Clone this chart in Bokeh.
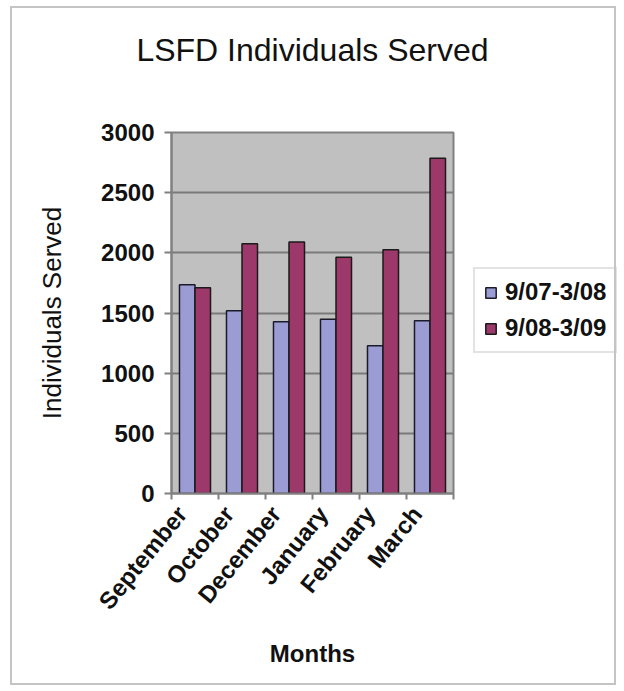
import math
from bokeh.plotting import figure
from bokeh.models import (ColumnDataSource, FixedTicker, Legend, LegendItem, Range1d, Title)
from bokeh.transform import dodge
from bokeh.embed import file_html
from bokeh.resources import INLINE

# ---- data ----
months = ["September", "October", "December", "January", "February", "March"]
series_names = ["9/07-3/08", "9/08-3/09"]
served_0708 = [1735, 1519, 1427, 1449, 1228, 1436]
served_0809 = [1710, 2076, 2089, 1964, 2026, 2787]
y_ticks = [0, 500, 1000, 1500, 2000, 2500, 3000]
chart_title = "LSFD Individuals Served"

pos = [i + 0.5 for i in range(len(months))]
label_pos = [i + 0.22 for i in range(len(months))]
src = ColumnDataSource(dict(pos=pos, a=served_0708, b=served_0809))

FONT = "Liberation Sans"
BAR_W = 0.33

p = figure(frame_width=282, frame_height=361, output_backend="svg", toolbar_location=None,
           x_range=Range1d(0, len(months)), y_range=Range1d(0, 3000),
           min_border_left=171, min_border_right=0,
           min_border_top=132, min_border_bottom=198,
           background_fill_color="#c0c0c0", border_fill_color="white",
           border_fill_alpha=0.0)
p.stylesheets = [
    ":host { position: relative; }"
    ":host::after { content: ''; position: absolute; left: 10px; top: 6px;"
    " width: 602px; height: 675px; border: 2px solid #c4c4c4; pointer-events: none; }"
]

p.outline_line_color = "#808080"
p.outline_line_width = 2

# spacer between frame and title (nearest the frame), then the title itself
p.add_layout(Title(text=" ", text_font_size="1px", standoff=62), "above")
p.add_layout(Title(text=chart_title, align="center", text_font=FONT,
                   text_font_size="32px", text_font_style="normal",
                   text_color="#111111", standoff=0), "above")

r1 = p.vbar(x=dodge("pos", -BAR_W / 2, range=p.x_range), top="a", width=BAR_W,
            source=src, fill_color="#9c9cd4", line_color="#1a1a2a", line_width=1.5)
r2 = p.vbar(x=dodge("pos", BAR_W / 2, range=p.x_range), top="b", width=BAR_W,
            source=src, fill_color="#9c386a", line_color="#1a1a1a", line_width=1.5)

# x axis
p.xaxis.ticker = FixedTicker(ticks=label_pos, minor_ticks=list(range(len(months) + 1)))
p.xaxis.major_label_overrides = {label_pos[i]: m for i, m in enumerate(months)}
p.xaxis.major_tick_out = 0
p.xaxis.major_tick_in = 0
p.xaxis.minor_tick_out = 6
p.xaxis.minor_tick_in = 0
p.xaxis.minor_tick_line_color = "#808080"
p.xaxis.minor_tick_line_width = 2
p.xaxis.major_label_orientation = 0.89
p.xaxis.major_label_text_font = FONT
p.xaxis.major_label_text_font_style = "bold"
p.xaxis.major_label_text_font_size = "24px"
p.xaxis.major_label_text_color = "#111111"
p.xaxis.major_label_standoff = 10
p.xaxis.axis_label = "Months"
p.xaxis.axis_label_text_font = FONT
p.xaxis.axis_label_text_font_style = "bold"
p.xaxis.axis_label_text_font_size = "24px"
p.xaxis.axis_label_text_color = "#111111"
p.xaxis.axis_label_standoff = 14
p.xaxis.axis_line_color = "#808080"
p.xaxis.axis_line_width = 2

# y axis
p.yaxis.ticker = FixedTicker(ticks=y_ticks)
p.yaxis.minor_tick_line_color = None
p.yaxis.major_tick_out = 7
p.yaxis.major_tick_in = 0
p.yaxis.major_tick_line_color = "#808080"
p.yaxis.major_tick_line_width = 2
p.yaxis.major_label_text_font = FONT
p.yaxis.major_label_text_font_style = "bold"
p.yaxis.major_label_text_font_size = "24px"
p.yaxis.major_label_text_color = "#111111"
p.yaxis.major_label_standoff = 10
p.yaxis.axis_label = "Individuals Served"
p.yaxis.axis_label_text_font = FONT
p.yaxis.axis_label_text_font_style = "normal"
p.yaxis.axis_label_text_font_size = "26px"
p.yaxis.axis_label_text_color = "#111111"
p.yaxis.axis_label_standoff = 31
p.yaxis.axis_line_color = "#808080"
p.yaxis.axis_line_width = 2

p.xgrid.grid_line_color = None
p.ygrid.grid_line_color = "#7a7a7a"
p.ygrid.grid_line_width = 2

legend = Legend(items=[LegendItem(label=series_names[0], renderers=[r1]),
                       LegendItem(label=series_names[1], renderers=[r2])],
                location=(20, 140), orientation="vertical",
                label_text_font=FONT, label_text_font_style="bold",
                label_text_font_size="24px", label_text_color="#111111",
                glyph_width=13, glyph_height=13, label_standoff=8,
                padding=9, spacing=8, margin=0,
                border_line_color="#c8c8c8", border_line_width=2,
                background_fill_color="white")
p.add_layout(legend, "right")

open("out.html", "w").write(file_html(p, INLINE))
